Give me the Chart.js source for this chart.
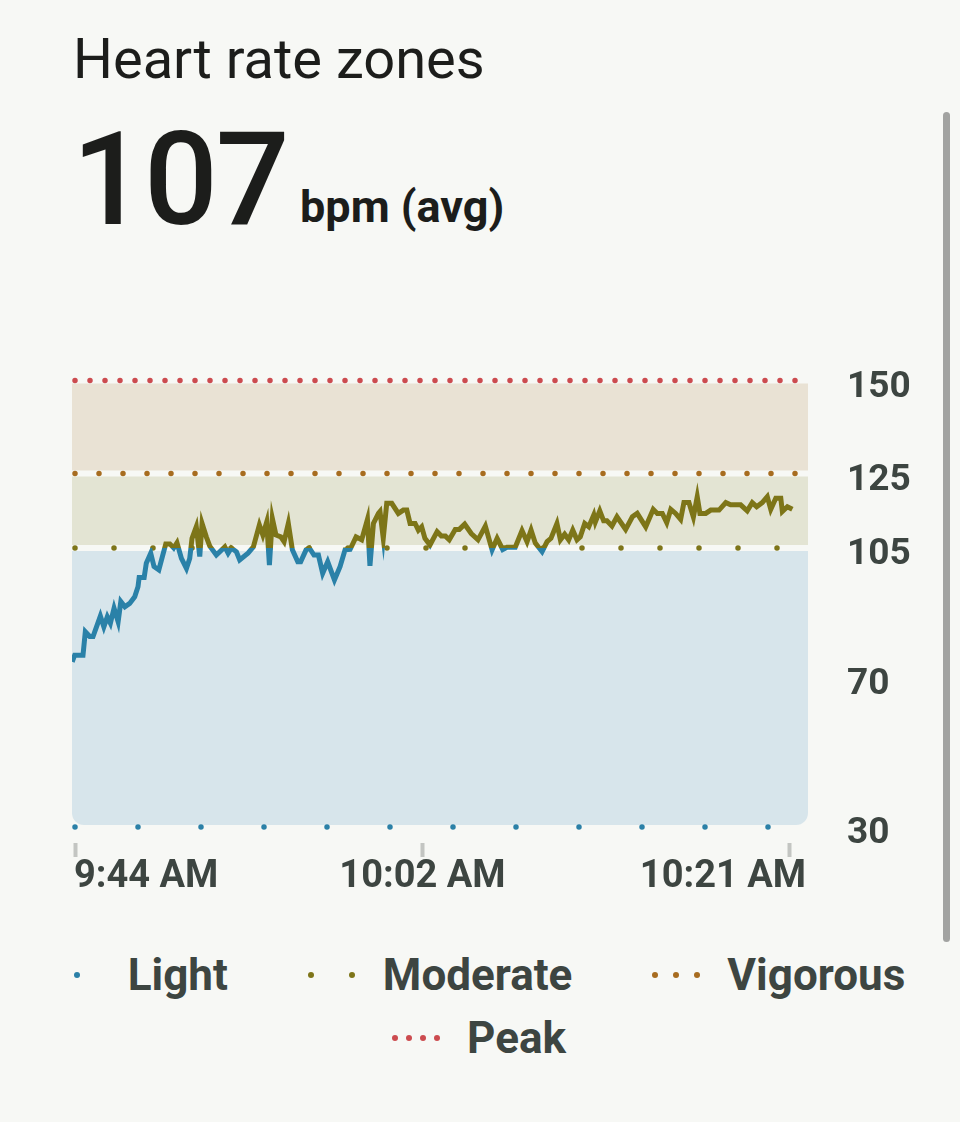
<!DOCTYPE html>
<html>
<head>
<meta charset="utf-8">
<title>Heart rate zones</title>
<script src="https://cdn.jsdelivr.net/npm/chart.js@4.4.1/dist/chart.umd.min.js"></script>
<style>
  body { margin: 0; background: #f7f8f5; font-family: Roboto, sans-serif; }
  .page { position: relative; width: 960px; height: 1122px; overflow: hidden; }
  .title { position: absolute; left: 73px; top: 31px; font-size: 56px; line-height: 1; color: #1c1d1b; }
  .avg { position: absolute; left: 72px; top: 115px; font-size: 130px; font-weight: 500; line-height: 1; color: #1c1d1b; letter-spacing: -2px; }
  .unit { position: absolute; left: 300px; top: 184px; font-size: 45px; font-weight: 700; line-height: 1; color: #1c1d1b; }
  #chart { position: absolute; left: 0; top: 340px; }
  .legend { position: absolute; left: 0; top: 951px; width: 952px; display: flex; flex-wrap: wrap; justify-content: center; column-gap: 74px; row-gap: 15px; }
  .item { display: flex; align-items: center; height: 48px; font-size: 44px; font-weight: 700; color: #3d4541; }
  .marker { width: 60px; margin-right: 21px; display: flex; justify-content: center; align-items: center; }
  .dot { width: 6px; height: 6px; border-radius: 50%; }
  .scroll { position: absolute; left: 943px; top: 112px; width: 7px; height: 830px; border-radius: 4px; background: #a2a3a1; }
</style>
</head>
<body>
<div class="page">
  <div class="title">Heart rate zones</div>
  <div class="avg" id="avg"></div>
  <div class="unit">bpm (avg)</div>
  <canvas id="chart" width="960" height="560"></canvas>
  <div class="legend" id="legend"></div>
  <div class="scroll"></div>
</div>
<script>
// data (minutes after 9:44 AM, heart rate)
const elapsedMin = [
  -0.15, -0.02, 0.41, 0.53, 0.76, 0.93, 1.31, 1.49, 1.67, 1.83,
  2.02, 2.23, 2.37, 2.58, 2.83, 3.09, 3.26, 3.32, 3.58, 3.69,
  3.92, 4.09, 4.34, 4.70, 4.91, 5.11, 5.28, 5.51, 5.77, 5.94,
  6.06, 6.28, 6.46, 6.58, 6.80, 6.98, 7.32, 7.76, 7.93, 8.10,
  8.36, 8.53, 8.96, 9.24, 9.55, 9.73, 9.93, 10.07, 10.22, 10.41,
  10.66, 10.83, 11.05, 11.26, 11.54, 11.69, 11.97, 12.14, 12.38, 12.61,
  12.83, 13.09, 13.44, 13.73, 13.99, 14.25, 14.56, 14.85, 15.15, 15.28,
  15.46, 15.72, 15.80, 15.97, 16.15, 16.41, 16.75, 17.01, 17.19, 17.36,
  17.62, 17.79, 17.96, 18.13, 18.39, 18.76, 18.98, 19.19, 19.39, 19.70,
  19.91, 20.19, 20.53, 20.88, 21.26, 21.61, 21.87, 22.16, 22.38, 22.81,
  23.16, 23.42, 23.63, 23.85, 24.20, 24.46, 24.66, 24.97, 25.15, 25.37,
  25.58, 25.79, 26.01, 26.18, 26.41, 26.62, 26.88, 26.96, 27.19, 27.39,
  27.56, 27.82, 28.08, 28.53, 28.88, 29.13, 29.57, 29.96, 30.17, 30.43,
  30.66, 30.87, 31.12, 31.38, 31.55, 31.81, 32.04, 32.24, 32.38, 32.68,
  32.94, 33.37, 33.72, 33.97, 34.49, 34.83, 35.09, 35.32, 35.61, 35.87,
  36.05, 36.31, 36.57, 36.65, 36.91, 37.17
];
const bpm = [
  74.4, 76.2, 76.2, 82.5, 81.2, 81.2, 86.7, 83.8, 86.5, 84.8,
  88.8, 85.2, 90.6, 89.2, 90.1, 91.9, 94.6, 97.1, 97.1, 100.9,
  103.6, 100, 99.1, 106.1, 106.1, 105, 106.4, 102.2, 99.5, 102.2,
  107.6, 110.7, 102.7, 111.6, 108, 105.5, 103.1, 105.3, 103.6, 105,
  104, 101.8, 103.6, 105.3, 111.2, 108.5, 112, 100.4, 113, 108.5,
  108, 106.7, 111.6, 104.5, 101.3, 101.3, 104.5, 105, 103.1, 103.1,
  98.2, 101.3, 96.4, 100, 104.5, 104.6, 108, 107.2, 112.7, 100.2,
  111.6, 114.3, 114.8, 107.6, 117, 117, 114.3, 115.2, 115.2, 111.6,
  111.6, 109.8, 110.7, 107.6, 105.8, 109.4, 108.2, 108.2, 107.2, 110,
  110, 111.4, 108.9, 107.2, 110.9, 104.5, 107.6, 104.6, 105.2, 105.2,
  109.7, 106.7, 109.8, 106.3, 104, 106.7, 107.6, 111.6, 107.2, 108.7,
  107.2, 109.8, 107.2, 108, 111.6, 110.7, 113.9, 112, 115, 112.3,
  112.3, 110.9, 113.4, 110, 113.4, 114.3, 110.7, 115.4, 114.3, 114.3,
  111.8, 115.4, 114.3, 112.7, 117.2, 117.2, 113.3, 118.8, 114.3, 114.3,
  115.2, 115.2, 117.2, 116.6, 116.6, 115, 117.2, 116.1, 117.2, 118.8,
  115.4, 118.4, 118.4, 114.8, 116.1, 115.4
];
const avgBpm = 107;
const xTickMin = [0, 18, 37];
const xTickLabels = ['9:44 AM', '10:02 AM', '10:21 AM'];
const yTicks = [30, 70, 105, 125, 150];
const zoneNames = ['Light', 'Moderate', 'Vigorous', 'Peak'];
const zoneLower = [30, 105, 125, 150];
const zoneUpper = [105, 125, 150, null];

// styles
const lineLow = '#2a81a8';
const lineHigh = '#7d7518';
const labelColor = '#3d4541';
const zoneFill = ['#d7e5eb', '#e3e4d3', '#e9e2d4', null];
const zoneDot = ['#2b80a7', '#7e7519', '#a76c20', '#cc4b4f'];
const zoneDotGap = [63, 39, 24, 15];
const legendDotGap = [0, 41, 21, 14];

document.getElementById('avg').textContent = avgBpm;

Chart.defaults.font.family = 'Roboto';

// zone bands + dotted boundaries
const zonesPlugin = {
  id: 'zones',
  beforeDatasetsDraw(chart) {
    const {ctx, chartArea: a, scales: {y}} = chart;
    ctx.save();
    zoneNames.forEach((name, i) => {
      if (!zoneFill[i]) return;
      const top = y.getPixelForValue(zoneUpper[i]) + 3;
      const bottom = y.getPixelForValue(zoneLower[i]) - (i === 0 ? 2 : 3);
      ctx.fillStyle = zoneFill[i];
      ctx.beginPath();
      if (i === 0) {
        ctx.roundRect(a.left, top, a.right - a.left, bottom - top, [0, 0, 12, 12]);
      } else {
        ctx.rect(a.left, top, a.right - a.left, bottom - top);
      }
      ctx.fill();
    });
    zoneNames.forEach((name, i) => {
      const py = y.getPixelForValue(zoneLower[i]);
      ctx.strokeStyle = zoneDot[i];
      ctx.lineWidth = 5.5;
      ctx.lineCap = 'round';
      ctx.setLineDash([0, zoneDotGap[i]]);
      ctx.beginPath();
      ctx.moveTo(a.left + 3, py);
      ctx.lineTo(a.right - 11, py);
      ctx.stroke();
    });
    ctx.restore();
  }
};

// time labels kept inside the plot width
const timeLabels = {
  id: 'timeLabels',
  afterDraw(chart) {
    const {ctx, chartArea: a, scales: {x}} = chart;
    ctx.save();
    ctx.font = 'bold 38px Roboto';
    ctx.fillStyle = labelColor;
    ctx.textBaseline = 'middle';
    xTickMin.forEach((m, i) => {
      const w = ctx.measureText(xTickLabels[i]).width;
      let left = x.getPixelForValue(m) - w / 2;
      left = Math.max(a.left + 2, Math.min(left, a.right - 2 - w));
      ctx.fillText(xTickLabels[i], left, x.top + 50);
    });
    ctx.restore();
  }
};

new Chart(document.getElementById('chart'), {
  type: 'line',
  data: {
    datasets: [{
      label: 'Heart rate',
      data: elapsedMin.map((m, i) => ({x: m, y: bpm[i]})),
      borderWidth: 5,
      pointRadius: 0,
      tension: 0,
      borderColor: (c) => {
        const {chart} = c;
        const a = chart.chartArea;
        if (!a) return lineLow;
        const split = (chart.scales.y.getPixelForValue(zoneLower[1]) - a.top) / (a.bottom - a.top);
        const g = chart.ctx.createLinearGradient(0, a.top, 0, a.bottom);
        g.addColorStop(0, lineHigh);
        g.addColorStop(split, lineHigh);
        g.addColorStop(split, lineLow);
        g.addColorStop(1, lineLow);
        return g;
      }
    }]
  },
  options: {
    responsive: false,
    animation: false,
    layout: {padding: {top: 40.6, left: 72, right: 0, bottom: 0}},
    plugins: {legend: {display: false}, tooltip: {enabled: false}},
    scales: {
      x: {
        type: 'linear',
        min: -0.16,
        max: 37.98,
        afterBuildTicks: (s) => { s.ticks = xTickMin.map(v => ({value: v})); },
        afterFit: (s) => { s.height = 73; },
        ticks: {display: false},
        border: {display: false},
        grid: {
          drawOnChartArea: false,
          drawTicks: true,
          tickLength: 30,
          tickWidth: 4,
          tickColor: '#c3c5c2',
          tickBorderDash: [0, 16, 14, 100]
        }
      },
      y: {
        position: 'right',
        min: 30,
        max: 150,
        afterBuildTicks: (s) => { s.ticks = yTicks.map(v => ({value: v})); },
        afterFit: (s) => {
          s.width = 152;
          s.paddingTop = 0;
          s.paddingBottom = 0;
        },
        border: {display: false},
        grid: {display: false, drawTicks: false},
        ticks: {
          padding: 39,
          crossAlign: 'near',
          labelOffset: 7,
          color: labelColor,
          font: {size: 37, weight: 'bold'}
        }
      }
    }
  },
  plugins: [zonesPlugin, timeLabels]
});

// legend
const legend = document.getElementById('legend');
zoneNames.forEach((name, i) => {
  const item = document.createElement('div');
  item.className = 'item';
  const marker = document.createElement('span');
  marker.className = 'marker';
  marker.style.gap = Math.max(legendDotGap[i] - 6, 0) + 'px';
  for (let k = 0; k <= i; k++) {
    const dot = document.createElement('span');
    dot.className = 'dot';
    dot.style.background = zoneDot[i];
    marker.appendChild(dot);
  }
  const text = document.createElement('span');
  text.textContent = name;
  item.appendChild(marker);
  item.appendChild(text);
  legend.appendChild(item);
});
</script>
</body>
</html>
